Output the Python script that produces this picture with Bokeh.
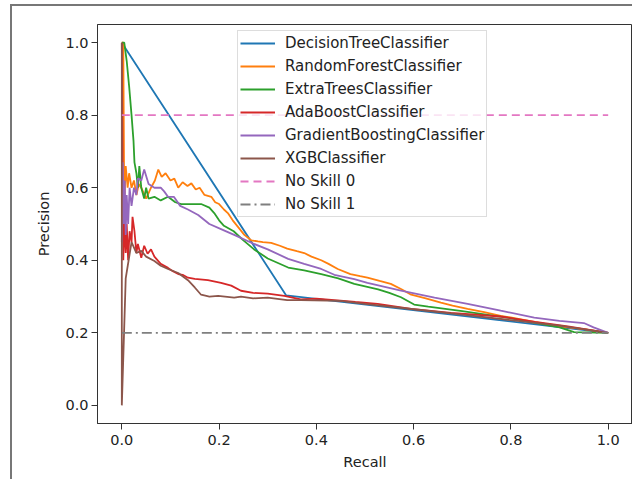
from bokeh.plotting import figure
from bokeh.models import FixedTicker, PrintfTickFormatter, Legend, LegendItem, Div
from bokeh.layouts import column
from bokeh.embed import file_html
from bokeh.resources import INLINE

x_ticks = [0.0, 0.2, 0.4, 0.6, 0.8, 1.0]
y_ticks = [0.0, 0.2, 0.4, 0.6, 0.8, 1.0]

names = ["DecisionTreeClassifier", "RandomForestClassifier", "ExtraTreesClassifier",
         "AdaBoostClassifier", "GradientBoostingClassifier", "XGBClassifier",
         "No Skill 0", "No Skill 1"]

dt_recall = [0.0, 0.338, 1.0]
dt_prec = [1.0, 0.303, 0.2]

rf_recall = [0.0, 0.003, 0.005, 0.008, 0.012, 0.015, 0.02, 0.025, 0.03, 0.035, 0.04, 0.05, 0.06,
             0.068, 0.075, 0.082, 0.09, 0.1, 0.108, 0.116, 0.125, 0.135, 0.143, 0.152, 0.16, 0.17,
             0.184, 0.192, 0.2, 0.21, 0.218, 0.228, 0.24, 0.252, 0.266, 0.28, 0.29, 0.307, 0.325,
             0.34, 0.36, 0.375, 0.39, 0.41, 0.425, 0.444, 0.47, 0.49, 0.505, 0.53, 0.553, 0.575,
             0.595, 0.625, 0.656, 0.68, 0.711, 0.745, 0.779, 0.81, 0.848, 0.9, 0.95, 1.0]
rf_prec = [1.0, 1.0, 0.55, 0.66, 0.6, 0.64, 0.6, 0.62, 0.58, 0.61, 0.6, 0.57, 0.6,
           0.62, 0.65, 0.63, 0.64, 0.62, 0.625, 0.6, 0.615, 0.605, 0.612, 0.595, 0.6, 0.58,
           0.575, 0.56, 0.555, 0.54, 0.53, 0.51, 0.49, 0.47, 0.455, 0.452, 0.45, 0.448, 0.44,
           0.432, 0.425, 0.42, 0.41, 0.4, 0.39, 0.376, 0.362, 0.356, 0.352, 0.343, 0.335, 0.32,
           0.305, 0.295, 0.283, 0.275, 0.266, 0.257, 0.247, 0.24, 0.23, 0.218, 0.21, 0.2]

et_recall = [0.0, 0.005, 0.01, 0.015, 0.02, 0.024, 0.026, 0.03, 0.033, 0.036, 0.04, 0.046, 0.05,
             0.055, 0.067, 0.08, 0.095, 0.11, 0.122, 0.14, 0.163, 0.18, 0.19, 0.2, 0.21, 0.23,
             0.25, 0.272, 0.3, 0.342, 0.375, 0.41, 0.445, 0.478, 0.527, 0.55, 0.574, 0.601, 0.63,
             0.7, 0.8, 0.9, 0.93, 1.0]
et_prec = [1.0, 1.0, 0.95, 0.88, 0.8, 0.73, 0.67, 0.64, 0.6, 0.66, 0.6, 0.57, 0.6,
           0.57, 0.575, 0.565, 0.575, 0.56, 0.555, 0.555, 0.555, 0.545, 0.53, 0.51, 0.495, 0.48,
           0.455, 0.43, 0.405, 0.38, 0.372, 0.362, 0.35, 0.335, 0.32, 0.31, 0.298, 0.278, 0.272,
           0.26, 0.24, 0.215, 0.202, 0.2]

ada_recall = [0.0, 0.003, 0.005, 0.008, 0.01, 0.013, 0.016, 0.02, 0.022, 0.026, 0.03, 0.033,
              0.04, 0.046, 0.053, 0.06, 0.067, 0.08, 0.095, 0.105, 0.116, 0.125, 0.136, 0.15,
              0.177, 0.204, 0.225, 0.245, 0.27, 0.3, 0.334, 0.368, 0.4, 0.437, 0.48, 0.526,
              0.595, 0.677, 0.779, 0.85, 0.917, 1.0]
ada_prec = [1.0, 0.4, 0.51, 0.42, 0.5, 0.4, 0.48, 0.45, 0.52, 0.48, 0.42, 0.445,
            0.407, 0.44, 0.418, 0.43, 0.41, 0.39, 0.379, 0.37, 0.362, 0.36, 0.352, 0.349,
            0.345, 0.338, 0.33, 0.316, 0.31, 0.308, 0.302, 0.292, 0.294, 0.29, 0.285, 0.28,
            0.266, 0.255, 0.245, 0.23, 0.218, 0.2]

gb_recall = [0.0, 0.002, 0.004, 0.006, 0.008, 0.01, 0.013, 0.016, 0.02, 0.025, 0.03, 0.033,
             0.04, 0.046, 0.055, 0.067, 0.08, 0.087, 0.095, 0.107, 0.12, 0.136, 0.157, 0.18,
             0.204, 0.231, 0.272, 0.3, 0.342, 0.375, 0.41, 0.437, 0.478, 0.505, 0.574, 0.643,
             0.711, 0.779, 0.848, 0.9, 0.95, 0.97, 1.0]
gb_prec = [0.45, 0.67, 0.5, 0.62, 0.47, 0.58, 0.5, 0.6, 0.55, 0.6, 0.58, 0.626,
           0.62, 0.65, 0.61, 0.6, 0.6, 0.59, 0.575, 0.575, 0.55, 0.54, 0.525, 0.5,
           0.486, 0.47, 0.445, 0.43, 0.404, 0.39, 0.376, 0.36, 0.348, 0.338, 0.316, 0.297,
           0.28, 0.261, 0.242, 0.233, 0.227, 0.215, 0.2]

xgb_recall = [0.0, 0.0, 0.008, 0.02, 0.03, 0.04, 0.05, 0.067, 0.08, 0.095, 0.116, 0.136, 0.15,
              0.163, 0.18, 0.198, 0.231, 0.245, 0.27, 0.3, 0.34, 0.368, 0.45, 0.5, 0.6, 0.7,
              0.8, 0.9, 1.0]
xgb_prec = [1.0, 0.0, 0.35, 0.45, 0.42, 0.426, 0.41, 0.398, 0.385, 0.376, 0.365, 0.345, 0.325,
            0.305, 0.3, 0.302, 0.297, 0.3, 0.295, 0.297, 0.29, 0.29, 0.288, 0.28, 0.265, 0.25,
            0.235, 0.22, 0.2]

noskill_recall = [0.0, 1.0]
noskill0_prec = [0.8, 0.8]
noskill1_prec = [0.2, 0.2]

colors = ["#1f77b4", "#ff7f0e", "#2ca02c", "#d62728", "#9467bd", "#8c564b", "#e377c2", "#7f7f7f"]

p = figure(frame_width=535, frame_height=399, x_range=(-0.05, 1.05), y_range=(-0.05, 1.05),
           output_backend="svg", toolbar_location=None,
           min_border_left=87, min_border_right=0, min_border_top=18, min_border_bottom=56,
           margin=0,
           styles={"box-shadow": "inset 2px 0px 0px 0px #777777", "background": "white"})
p.background_fill_color = "white"
p.border_fill_color = "white"
p.border_fill_alpha = 0
p.grid.visible = False
p.outline_line_color = "#333333"
p.outline_line_width = 1

series = [(dt_recall, dt_prec), (rf_recall, rf_prec), (et_recall, et_prec),
          (ada_recall, ada_prec), (gb_recall, gb_prec), (xgb_recall, xgb_prec)]
renderers = []
for (xs, ys), c in zip(series, colors[:6]):
    renderers.append(p.line(xs, ys, line_color=c, line_width=1.8))
renderers.append(p.line(noskill_recall, noskill0_prec, line_color=colors[6], line_width=1.8,
                        line_dash="8 5"))
renderers.append(p.line(noskill_recall, noskill1_prec, line_color=colors[7], line_width=1.8,
                        line_dash="10 4 2 4"))

for ax, ticks in ((p.xaxis, x_ticks), (p.yaxis, y_ticks)):
    ax.ticker = FixedTicker(ticks=ticks)
    ax.formatter = PrintfTickFormatter(format="%.1f")
    ax.minor_tick_line_color = None
    ax.major_tick_out = 6
    ax.major_tick_in = 0
    ax.major_tick_line_color = "#333333"
    ax.axis_line_color = "#333333"
    ax.major_label_text_font = "DejaVu Sans"
    ax.major_label_text_font_size = "14.5px"
    ax.major_label_text_color = "#222222"
    ax.axis_label_text_font = "DejaVu Sans"
    ax.axis_label_text_font_size = "14.5px"
    ax.axis_label_text_font_style = "normal"
    ax.axis_label_text_color = "#222222"

p.xaxis.axis_label = "Recall"
p.yaxis.axis_label = "Precision"
p.yaxis.major_label_standoff = 3
p.xaxis.major_label_standoff = 5
p.yaxis.axis_label_standoff = 10
p.xaxis.axis_label_standoff = 6

legend = Legend(items=[LegendItem(label=n, renderers=[r]) for n, r in zip(names, renderers)],
                location=(140, 206), margin=0, padding=2, spacing=3,
                label_height=20, glyph_height=20, glyph_width=35, label_standoff=10,
                label_text_font="DejaVu Sans", label_text_font_size="15px",
                label_text_color="#222222",
                border_line_color="#bbbbbb", border_line_width=1,
                background_fill_color="white", background_fill_alpha=0.8)
p.add_layout(legend, "center")

top_rule = Div(text="", width=622, height=2, margin=0,
               styles={"background-color": "#777777"})
page = column(top_rule, p, spacing=0, margin=(4, 0, 0, 10))

open("out.html", "w").write(file_html(page, INLINE))
